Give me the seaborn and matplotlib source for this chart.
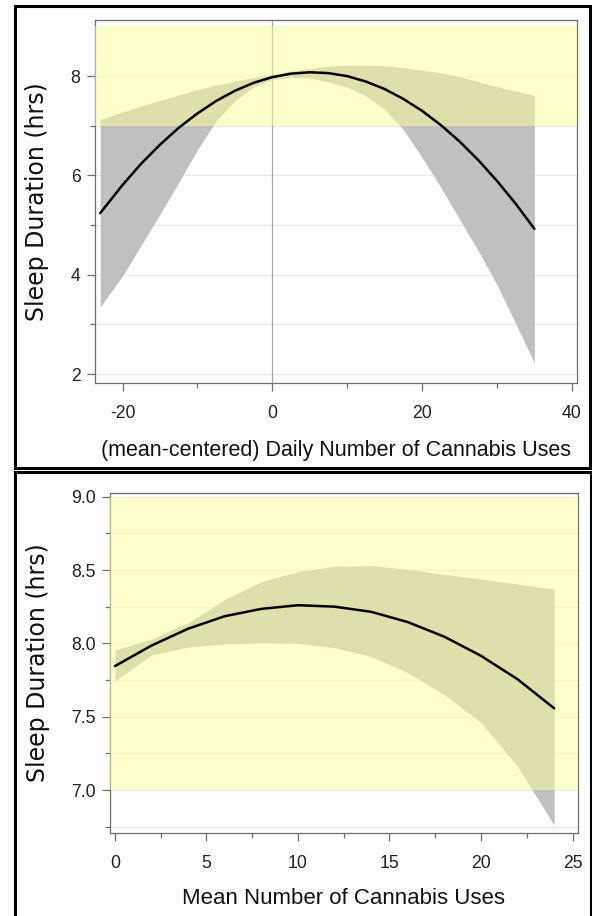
import matplotlib
matplotlib.use("Agg")
import matplotlib.pyplot as plt
from matplotlib.patches import Rectangle
from matplotlib.ticker import MultipleLocator, FormatStrFormatter
import pandas as pd
import seaborn as sns

# ---- Daily (within-person, mean-centered) cannabis uses vs. sleep ----
daily_x = [-23, -20, -17.5, -15, -12.5, -10, -7.5, -5, -2.5, 0, 2.5, 5, 7.5,
           10, 12.5, 15, 17.5, 20, 22.5, 25, 27.5, 30, 32.5, 35]
daily_fit = [5.24, 5.81, 6.24, 6.62, 6.96, 7.25, 7.50, 7.705, 7.865, 7.98, 8.05,
             8.077, 8.06, 8.00, 7.89, 7.74, 7.54, 7.30, 7.015, 6.685, 6.31, 5.89,
             5.43, 4.925]
daily_upper = [7.13, 7.28, 7.40, 7.51, 7.62, 7.73, 7.82, 7.90, 7.97, 8.03, 8.10,
               8.15, 8.20, 8.22, 8.22, 8.21, 8.17, 8.12, 8.07, 7.99, 7.89, 7.79,
               7.70, 7.61]
daily_lower = [3.35, 3.98, 4.60, 5.22, 5.86, 6.52, 7.10, 7.50, 7.78, 7.93, 7.98,
               7.96, 7.88, 7.78, 7.60, 7.33, 6.92, 6.36, 5.76, 5.12, 4.48, 3.80,
               3.02, 2.22]

# ---- Mean (between-person) cannabis uses vs. sleep ----
mean_x = [0, 2, 4, 6, 8, 10, 12, 14, 16, 18, 20, 22, 24]
mean_fit = [7.845, 7.985, 8.10, 8.185, 8.235, 8.26, 8.25, 8.215, 8.145, 8.045,
            7.915, 7.755, 7.557]
mean_upper = [7.955, 8.03, 8.14, 8.30, 8.42, 8.49, 8.525, 8.53, 8.505, 8.47,
              8.44, 8.405, 8.37]
mean_lower = [7.745, 7.92, 7.975, 7.995, 8.005, 8.0, 7.97, 7.91, 7.80, 7.65,
              7.46, 7.16, 6.76]

# recommended sleep range (hours)
recommended = (7, 9)

y_label = "Sleep Duration (hrs)"
daily_xlabel = "(mean-centered) Daily Number of Cannabis Uses"
mean_xlabel = "Mean Number of Cannabis Uses"

sns.set_theme(style="ticks")
plt.rcParams["font.family"] = ["Liberation Sans", "DejaVu Sans"]
plt.rcParams["axes.unicode_minus"] = False

W, H = 592, 916
fig = plt.figure(figsize=(W / 100, H / 100), dpi=100)
fig.patch.set_facecolor("white")


def axes_px(left, top, right, bottom):
    return fig.add_axes([left / W, 1 - bottom / H, (right - left) / W, (bottom - top) / H])


def frame_px(x0, y0, x1, y1):
    fig.add_artist(Rectangle((x0 / W, 1 - y1 / H), (x1 - x0) / W, (y1 - y0) / H,
                             transform=fig.transFigure, fill=False,
                             edgecolor="black", linewidth=2.2, zorder=10))


SPINE = "#6e6e6e"
BAND = "#c0c0c0"
YELLOW = (1.0, 1.0, 0.6)


def style_axes(ax):
    ax.set_facecolor("white")
    for s in ax.spines.values():
        s.set_color(SPINE)
        s.set_linewidth(0.9)
    ax.set_axisbelow(True)
    ax.yaxis.grid(True, which="both", color="#e8e8e8", linewidth=0.8)
    ax.xaxis.grid(False)
    ax.tick_params(which="major", length=6, width=0.9, color=SPINE,
                   labelsize=12.7, labelcolor="#222222")
    ax.tick_params(which="minor", length=3.5, width=0.9, color=SPINE)
    ax.tick_params(axis="x", which="major", pad=10)
    ax.tick_params(axis="y", which="major", pad=4.5)


def draw_panel(ax, x, fit, lower, upper):
    df = pd.DataFrame({"x": x, "fit": fit, "lower": lower, "upper": upper})
    ax.fill_between(df["x"], df["lower"], df["upper"], color=BAND, linewidth=0, zorder=2)
    ax.axhspan(recommended[0], recommended[1], color=YELLOW, alpha=0.5, linewidth=0, zorder=3)
    sns.lineplot(data=df, x="x", y="fit", ax=ax, color="black", linewidth=1.8,
                 zorder=4, legend=False)


# ---- top panel ----
ax1 = axes_px(95, 20, 577, 383)
style_axes(ax1)
draw_panel(ax1, daily_x, daily_fit, daily_lower, daily_upper)
ax1.axvline(0, color="#a8a8a8", linewidth=0.9, zorder=2.5)
ax1.set_xlim(-23.69, 40.69)
ax1.set_ylim(1.82, 9.13)
ax1.xaxis.set_major_locator(MultipleLocator(20))
ax1.xaxis.set_minor_locator(MultipleLocator(10))
ax1.yaxis.set_major_locator(MultipleLocator(2))
ax1.set_yticks([3, 5, 7], minor=True)
ax1.set_xlabel(daily_xlabel, fontsize=15.5, color="#111111")
ax1.set_ylabel(y_label, fontsize=17, family="DejaVu Sans", color="#111111")
ax1.xaxis.set_label_coords(0.5, -0.1846)
ax1.yaxis.set_label_coords(-0.120, 0.5)

# ---- bottom panel ----
ax2 = axes_px(110, 493, 578, 833)
style_axes(ax2)
draw_panel(ax2, mean_x, mean_fit, mean_lower, mean_upper)
ax2.set_xlim(-0.27, 25.30)
ax2.set_ylim(6.707, 9.025)
ax2.xaxis.set_major_locator(MultipleLocator(5))
ax2.xaxis.set_minor_locator(MultipleLocator(2.5))
ax2.yaxis.set_major_locator(MultipleLocator(0.5))
ax2.yaxis.set_minor_locator(MultipleLocator(0.25))
ax2.yaxis.set_major_formatter(FormatStrFormatter("%.1f"))
ax2.set_xlabel(mean_xlabel, fontsize=16, color="#111111")
ax2.set_ylabel(y_label, fontsize=17, family="DejaVu Sans", color="#111111")
ax2.xaxis.set_label_coords(0.5, -0.194)
ax2.yaxis.set_label_coords(-0.154, 0.5)

for ax in (ax1, ax2):
    ax.xaxis.label.set_verticalalignment("center")
    ax.yaxis.label.set_verticalalignment("center")
    ax.yaxis.label.set_horizontalalignment("center")

# panel frames
frame_px(14.5, 6.5, 589.5, 468.5)
frame_px(14.5, 471.5, 590.5, 930)

fig.savefig("out.png", dpi=100, facecolor="white")
